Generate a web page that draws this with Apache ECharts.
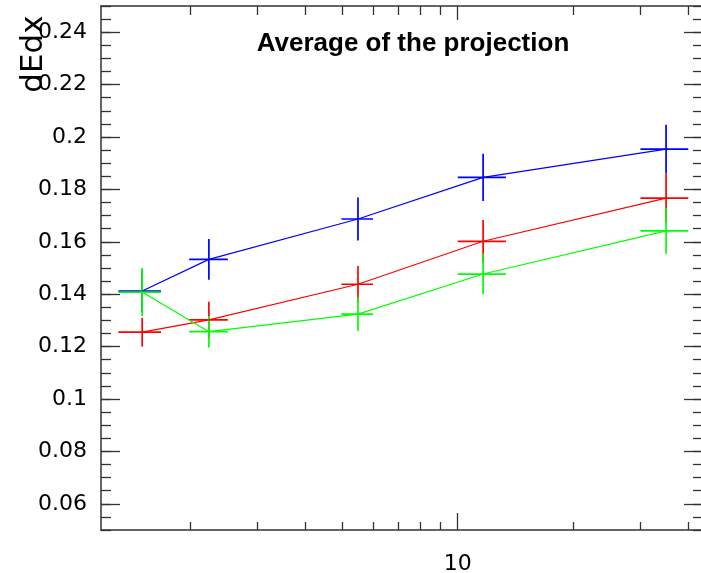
<!DOCTYPE html>
<html>
<head>
<meta charset="utf-8">
<script src="https://cdn.jsdelivr.net/npm/echarts@6/dist/echarts.min.js"></script>
<style>
  html, body { margin: 0; padding: 0; background: #fff; }
  #main { width: 701px; height: 573px; }
</style>
</head>
<body>
<div id="main"></div>
<script>
// bin centres and horizontal extents (log x)
var xVals  = [1.50, 2.24, 5.49, 11.65, 35.0];
var xLow   = [1.30, 1.99, 4.97, 10.0, 30.0];
var xHigh  = [1.68, 2.51, 6.01, 13.36, 40.0];

var blueY    = [0.1412, 0.1533, 0.1687, 0.1846, 0.1954];
var blueErr  = [0.0080, 0.0078, 0.0082, 0.0090, 0.0093];
var redY     = [0.1255, 0.1302, 0.1438, 0.1602, 0.1767];
var redErr   = [0.0055, 0.0069, 0.0070, 0.0081, 0.0094];
var greenY   = [0.1408, 0.1257, 0.1324, 0.1477, 0.1642];
var greenErr = [0.0092, 0.0060, 0.0064, 0.0077, 0.0088];

var yMajor = [0.06, 0.08, 0.1, 0.12, 0.14, 0.16, 0.18, 0.2, 0.22, 0.24];
var xMinor = [2, 3, 4, 5, 6, 7, 8, 9, 20, 30, 40];
var xMajor = [10];

var X_MIN = 1.171, X_MAX = 43.7;
var Y_MIN = 0.05, Y_MAX = 0.25;
var frameColor = '#333';
var labelFont = 'DejaVu Sans';

var chart = echarts.init(document.getElementById('main'), null, { renderer: 'canvas' });

function logAxis(pos, ticks, len, withLine, labels) {
  return {
    type: 'log', logBase: 10, min: X_MIN, max: X_MAX, position: pos,
    axisLine: { show: withLine, onZero: false, lineStyle: { color: frameColor, width: 1.5 } },
    axisTick: { show: true, inside: true, length: len, customValues: ticks,
                lineStyle: { color: frameColor, width: 1.3 } },
    axisLabel: labels ? { show: true, customValues: labels, margin: 23,
                          fontFamily: labelFont, fontSize: 22, color: '#000',
                          formatter: function (v) { return String(Math.round(v)); } }
                      : { show: false },
    splitLine: { show: false }
  };
}

function valAxis(pos, minor, withLine, labels) {
  var ax = {
    type: 'value', min: Y_MIN, max: Y_MAX, position: pos,
    axisLine: { show: withLine, onZero: false, lineStyle: { color: frameColor, width: 1.5 } },
    splitLine: { show: false },
    axisLabel: { show: false }
  };
  if (minor) {
    ax.interval = 0.005;
    ax.axisTick = { show: true, inside: true, length: 10, lineStyle: { color: frameColor, width: 1.3 } };
  } else {
    ax.axisTick = { show: true, inside: true, length: 19, customValues: yMajor,
                    lineStyle: { color: frameColor, width: 1.3 } };
    if (labels) {
      ax.axisLabel = { show: true, customValues: yMajor, margin: 14,
                       fontFamily: labelFont, fontSize: 22, color: '#000',
                       formatter: function (v) { return String(+v.toFixed(2)); } };
    }
  }
  return ax;
}

function pts(ys) {
  return xVals.map(function (x, i) { return [x, ys[i]]; });
}
function errData(ys, errs) {
  return xVals.map(function (x, i) { return [x, ys[i], xLow[i], xHigh[i], errs[i]]; });
}
function errRender(color) {
  return function (params, api) {
    var x = api.value(0), y = api.value(1), e = api.value(4);
    var pL = api.coord([api.value(2), y]);
    var pR = api.coord([api.value(3), y]);
    var pT = api.coord([x, y + e]);
    var pB = api.coord([x, y - e]);
    return {
      type: 'group',
      children: [
        { type: 'line', shape: { x1: pL[0], y1: pL[1], x2: pR[0], y2: pR[1] },
          style: { stroke: color, lineWidth: 1.7 } },
        { type: 'line', shape: { x1: pT[0], y1: pT[1], x2: pB[0], y2: pB[1] },
          style: { stroke: color, lineWidth: 1.7 } }
      ]
    };
  };
}
function lineSeries(ys, color) {
  return {
    type: 'line', xAxisIndex: 0, yAxisIndex: 0, data: pts(ys),
    showSymbol: false, symbol: 'none', silent: true,
    lineStyle: { color: color, width: 1.2 }
  };
}
function errSeries(ys, errs, color) {
  return {
    type: 'custom', xAxisIndex: 0, yAxisIndex: 0, data: errData(ys, errs),
    encode: { x: 0, y: 1 }, renderItem: errRender(color), silent: true
  };
}

chart.setOption({
  animation: false,
  backgroundColor: '#fff',
  grid: { left: 101, top: 6, width: 602, height: 524, containLabel: false, outerBoundsMode: 'none' },
  xAxis: [
    logAxis('bottom', xMinor, 8, true, null),
    logAxis('bottom', xMajor, 17, false, xMajor),
    logAxis('top', xMinor, 9, true, null),
    logAxis('top', xMajor, 14, false, null)
  ],
  yAxis: [
    valAxis('left', true, true, false),
    valAxis('left', false, false, true),
    valAxis('right', true, true, false),
    valAxis('right', false, false, false)
  ],
  graphic: [
    { type: 'text', x: 413, y: 44,
      style: { text: 'Average of the projection', fontFamily: 'Liberation Sans',
               fontWeight: 'bold', fontSize: 26, fill: '#000',
               align: 'center', verticalAlign: 'middle' } },
    { type: 'text', x: 34, y: 54, rotation: Math.PI / 2,
      style: { text: 'dEdx', fontFamily: labelFont, fontSize: 31, fill: '#000',
               align: 'center', verticalAlign: 'middle' } }
  ],
  series: [
    lineSeries(blueY, '#0000ff'),
    errSeries(blueY, blueErr, '#0000ff'),
    lineSeries(redY, '#ff0000'),
    errSeries(redY, redErr, '#ff0000'),
    lineSeries(greenY, '#00ff00'),
    errSeries(greenY, greenErr, '#00ff00')
  ]
});
</script>
</body>
</html>
